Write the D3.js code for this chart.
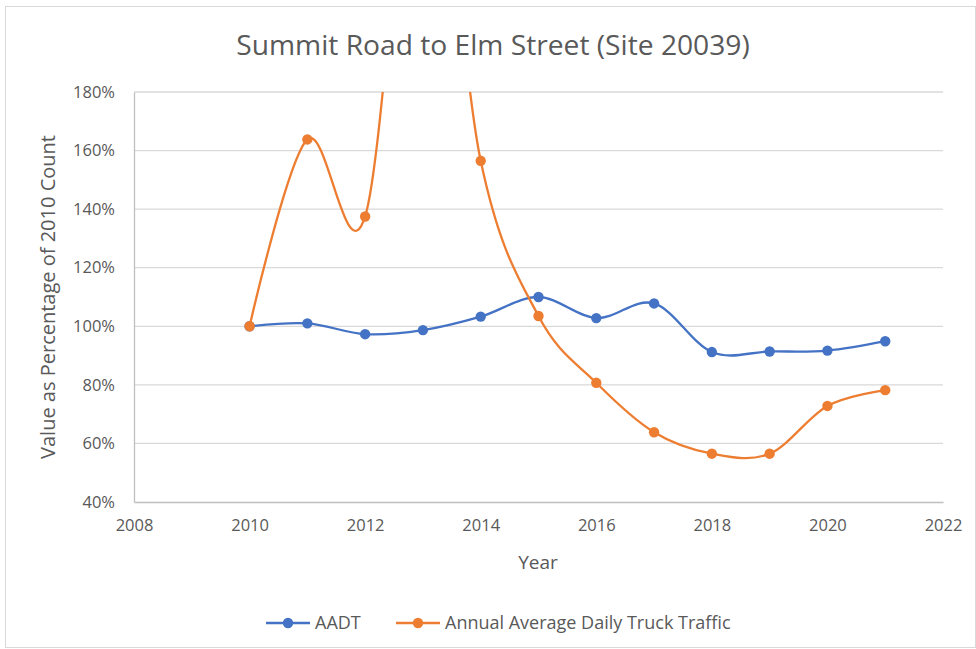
<!DOCTYPE html>
<html>
<head>
<meta charset="utf-8">
<script src="https://cdn.jsdelivr.net/npm/d3@7"></script>
<style>
  body { margin: 0; background: #fff; }
  text { font-family: "Open Sans", "Noto Sans", sans-serif; fill: #595959; }
</style>
</head>
<body>
<div id="chart"></div>
<script>
const years = [2010, 2011, 2012, 2013, 2014, 2015, 2016, 2017, 2018, 2019, 2020, 2021];
const aadt = [1.00, 1.01, 0.973, 0.987, 1.033, 1.10, 1.028, 1.078, 0.912, 0.914, 0.917, 0.949];
// 2013 truck value is above the axis max and cannot be read; estimated
const truck = [1.00, 1.638, 1.375, 2.9, 1.565, 1.035, 0.807, 0.638, 0.565, 0.565, 0.728, 0.782];
const seriesNames = ["AADT", "Annual Average Daily Truck Traffic"];
const seriesColors = ["#4472c4", "#ed7d31"];
const xTicks = [2008, 2010, 2012, 2014, 2016, 2018, 2020, 2022];
const yTicks = [0.4, 0.6, 0.8, 1.0, 1.2, 1.4, 1.6, 1.8];

const width = 976, height = 649;
const margin = {left: 134, right: 33, top: 92, bottom: 147};

const svg = d3.select("#chart").append("svg")
  .attr("width", width)
  .attr("height", height);

// chart outer border
svg.append("rect")
  .attr("x", 5.5).attr("y", 6.5)
  .attr("width", width - 6).attr("height", height - 8)
  .attr("fill", "none").attr("stroke", "#d9d9d9");

const x = d3.scaleLinear().domain([2008, 2022]).range([margin.left, width - margin.right]);
const y = d3.scaleLinear().domain([0.4, 1.8]).range([height - margin.bottom, margin.top]);

// gridlines
svg.append("g")
  .selectAll("line")
  .data(yTicks.slice(1))
  .join("line")
  .attr("x1", x(2008)).attr("x2", x(2022))
  .attr("y1", d => y(d)).attr("y2", d => y(d))
  .attr("stroke", "#d9d9d9").attr("stroke-width", 1.3);

// axes
const yAxis = svg.append("g")
  .attr("transform", `translate(${margin.left},0)`)
  .call(d3.axisLeft(y).tickValues(yTicks).tickFormat(d3.format(".0%")).tickSize(0).tickPadding(19));
yAxis.select(".domain").attr("stroke", "#bfbfbf").attr("stroke-width", 1.3);
yAxis.selectAll("text").style("font-size", "16.5px").attr("fill", "#595959");

const xAxis = svg.append("g")
  .attr("transform", `translate(0,${y(0.4)})`)
  .call(d3.axisBottom(x).tickValues(xTicks).tickFormat(d3.format("d")).tickSize(0).tickPadding(17));
xAxis.select(".domain").attr("stroke", "#bfbfbf").attr("stroke-width", 1.3);
xAxis.selectAll("text").style("font-size", "16.5px").attr("fill", "#595959");

// title + axis titles
svg.append("text")
  .attr("x", 493).attr("y", 55)
  .attr("text-anchor", "middle")
  .style("font-size", "28.2px")
  .text("Summit Road to Elm Street (Site 20039)");

svg.append("text")
  .attr("x", 538).attr("y", 569)
  .attr("text-anchor", "middle")
  .style("font-size", "19px")
  .text("Year");

svg.append("text")
  .attr("transform", `translate(55,${(y(0.4) + y(1.8)) / 2}) rotate(-90)`)
  .attr("text-anchor", "middle")
  .style("font-size", "20px")
  .text("Value as Percentage of 2010 Count");

// plot clip
svg.append("clipPath").attr("id", "plotclip")
  .append("rect")
  .attr("x", x(2008)).attr("y", y(1.8))
  .attr("width", x(2022) - x(2008)).attr("height", y(0.4) - y(1.8));

const line = d3.line()
  .x(d => x(d[0]))
  .y(d => y(d[1]))
  .curve(d3.curveCardinal.tension(0));

const series = [aadt, truck].map((vals, i) => ({
  name: seriesNames[i],
  color: seriesColors[i],
  points: years.map((yr, j) => [yr, vals[j]])
}));

const plot = svg.append("g").attr("clip-path", "url(#plotclip)");

series.forEach(s => {
  plot.append("path")
    .datum(s.points)
    .attr("d", line)
    .attr("fill", "none")
    .attr("stroke", s.color)
    .attr("stroke-width", 2.3);
  plot.append("g")
    .selectAll("circle")
    .data(s.points)
    .join("circle")
    .attr("cx", d => x(d[0]))
    .attr("cy", d => y(d[1]))
    .attr("r", 5.2)
    .attr("fill", s.color);
});

// legend
const legendX = [266, 396];
const legend = svg.append("g").attr("transform", "translate(0,623)");
series.forEach((s, i) => {
  const g = legend.append("g").attr("transform", `translate(${legendX[i]},0)`);
  g.append("line").attr("x1", 0).attr("x2", 44).attr("y1", 0).attr("y2", 0)
    .attr("stroke", s.color).attr("stroke-width", 2.3);
  g.append("circle").attr("cx", 22).attr("cy", 0).attr("r", 5.2).attr("fill", s.color);
  g.append("text").attr("x", 49).attr("y", 6).style("font-size", "18px").text(s.name);
});
</script>
</body>
</html>
